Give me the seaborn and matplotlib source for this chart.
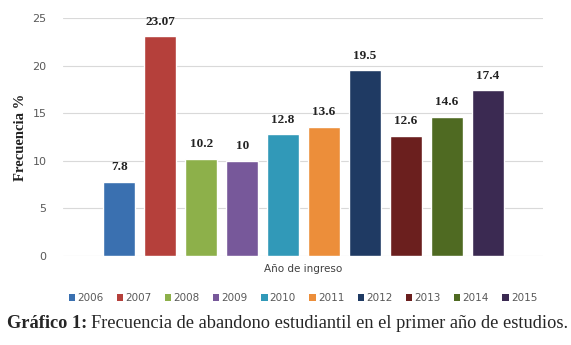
import numpy as np
import pandas as pd
import matplotlib
matplotlib.use('Agg')
import matplotlib.pyplot as plt
import seaborn as sns
from matplotlib.patches import Patch

sns.set_style('white')

# data
years = ['2006', '2007', '2008', '2009', '2010', '2011', '2012', '2013', '2014', '2015']
values = [7.8, 23.07, 10.2, 10, 12.8, 13.6, 19.5, 12.6, 14.6, 17.4]
labels = ['7.8', '23.07', '10.2', '10', '12.8', '13.6', '19.5', '12.6', '14.6', '17.4']
colors = ['#3A70B0', '#B5403B', '#8DB04A', '#77589A', '#3199B8',
          '#EC8E3A', '#1F3A63', '#6B1F1E', '#4F6A22', '#3B2A52']

df = pd.DataFrame({'year': years, 'freq': values})

fig = plt.figure(figsize=(5.71, 3.45), dpi=100)
ax = fig.add_axes([63/571, 89/345, 480/571, 238/345])

sns.barplot(data=df, x='year', y='freq', hue='year', palette=colors,
            width=0.78, legend=False, ax=ax, saturation=1)

ax.set_xlim(-1.37, 10.34)
ax.set_ylim(0, 25)
ax.set_yticks([0, 5, 10, 15, 20, 25])
ax.grid(axis='y', color='#d9d9d9', linewidth=0.8)
ax.set_axisbelow(True)
for s in ax.spines.values():
    s.set_visible(False)
ax.tick_params(axis='y', colors='#595959', labelsize=8, length=0, pad=12)
ax.set_xticks([])
ax.set_xlabel('Año de ingreso', fontsize=7.5, color='#404040', labelpad=6)
ax.set_ylabel('Frecuencia %', fontsize=10.5, fontweight='bold',
              family='Liberation Serif', color='#222222', labelpad=4)

for i, (v, t) in enumerate(zip(values, labels)):
    ax.text(i, v + 0.9, t, ha='center', va='bottom', fontsize=9.5,
            fontweight='bold', family='Liberation Serif', color='#222222')

handles = [Patch(facecolor=c, edgecolor='none') for c in colors]
fig.legend(handles, years, loc='center', bbox_to_anchor=(303/571, 1 - 298/345),
           ncol=10, frameon=False, fontsize=7.5, handlelength=0.6,
           handleheight=0.6, handletextpad=0.2, columnspacing=1.3,
           labelcolor='#595959')

# caption: bold prefix, then regular text right after it
cap1 = fig.text(7/571, 1 - 323/345, 'Gráfico 1:', fontsize=13.2, fontweight='bold',
                family='Liberation Serif', va='center', ha='left')
fig.canvas.draw()
bb = cap1.get_window_extent(renderer=fig.canvas.get_renderer())
x2 = (bb.x1 + 4) / fig.bbox.width
fig.text(x2, 1 - 323/345, 'Frecuencia de abandono estudiantil en el primer año de estudios.',
         fontsize=13.2, family='Liberation Serif', va='center', ha='left')

fig.savefig('out.png', dpi=100)
